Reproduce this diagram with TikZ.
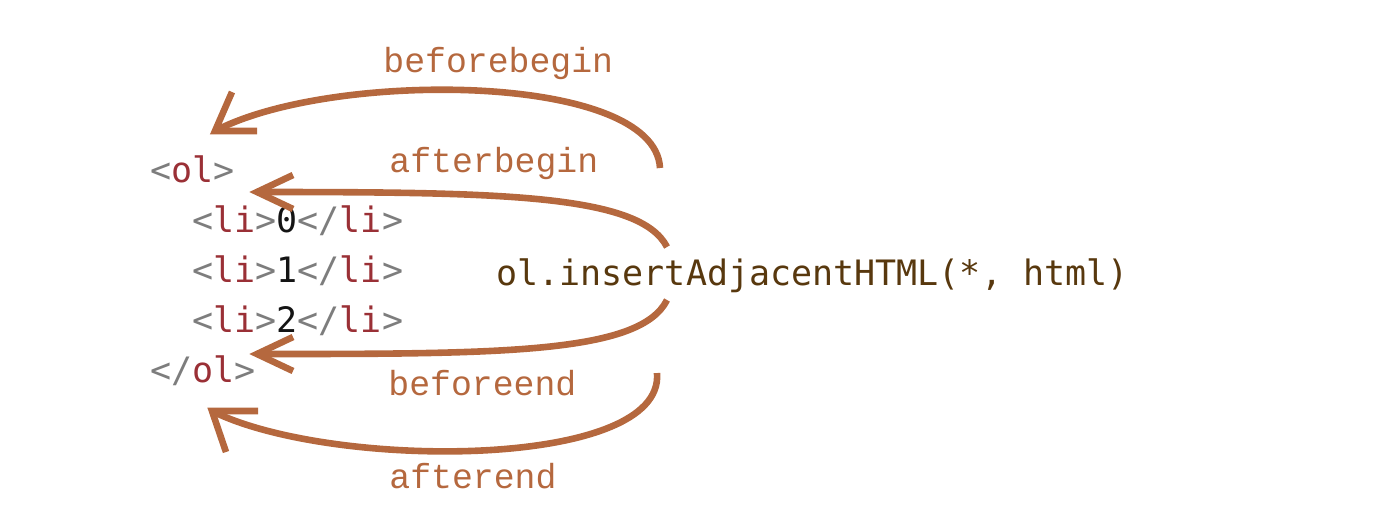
\documentclass[tikz,border=0pt]{standalone}
\usepackage{fontspec}
\newfontfamily\codefont{DejaVu Sans Mono}
\newfontfamily\labelfont{Liberation Mono}
\definecolor{arrowc}{RGB}{181,104,62}
\definecolor{tagc}{RGB}{125,125,125}
\definecolor{namec}{RGB}{154,48,54}
\definecolor{mainc}{RGB}{88,56,14}
\definecolor{numc}{RGB}{20,20,20}
\newcommand{\tg}[1]{\textcolor{tagc}{#1}}
\newcommand{\nm}[1]{\textcolor{namec}{#1}}
\begin{document}
\begin{tikzpicture}[x=0.5pt,y=-0.5pt,
  code/.style={anchor=base west,inner sep=0pt,font=\codefont\fontsize{17.5pt}{20pt}\selectfont},
  lbl/.style={anchor=base west,inner sep=0pt,text=arrowc,font=\labelfont\fontsize{17.4pt}{20pt}\selectfont},
  arc/.style={draw=arrowc,line width=3.3pt,line cap=butt},
  head/.style={draw=arrowc,line width=3.3pt,line cap=butt,line join=miter}]
\useasboundingbox (0,0) rectangle (1374,516);
% code
\node[code] (olopen) at (150,182) {\tg{<}\nm{ol}\tg{>}};
\node[code] (li0) at (192,232) {\tg{<}\nm{li}\tg{>}\textcolor{numc}{0}\tg{</}\nm{li}\tg{>}};
\node[code] (li1) at (192,282) {\tg{<}\nm{li}\tg{>}\textcolor{numc}{1}\tg{</}\nm{li}\tg{>}};
\node[code] (li2) at (192,332) {\tg{<}\nm{li}\tg{>}\textcolor{numc}{2}\tg{</}\nm{li}\tg{>}};
\node[code] (olclose) at (150,382) {\tg{</}\nm{ol}\tg{>}};
\node[code,text=mainc] (call) at (496,285) {ol.insertAdjacentHTML(*, html)};
% labels
\node[lbl] (lbb) at (383,72) {beforebegin};
\node[lbl] (lab) at (389,172) {afterbegin};
\node[lbl] (lbe) at (388,395) {beforeend};
\node[lbl] (lae) at (389,488) {afterend};
% coordinates
\coordinate (s1) at (660,168);
\coordinate (t1) at (215,131);
\coordinate (s2) at (667,247);
\coordinate (t2) at (257,192);
\coordinate (s3) at (667,300);
\coordinate (t3) at (257,354);
\coordinate (s4) at (657,373);
\coordinate (t4) at (212,411);
% curves
\draw[arc] (s1) .. controls (655,72) and (330,70) .. (t1);
\draw[arc] (s2) .. controls (640,194) and (500,192) .. (t2);
\draw[arc] (s3) .. controls (640,354) and (500,354) .. (t3);
\draw[arc] (s4) .. controls (665,470) and (330,470) .. (t4);
% heads
\draw[head] (257,131) -- (t1) -- (232,92);
\draw[head] (293,175) -- (t2) -- (293,209);
\draw[head] (293,337) -- (t3) -- (293,371);
\draw[head] (258,411) -- (t4) -- (226,452);
\end{tikzpicture}
\end{document}
